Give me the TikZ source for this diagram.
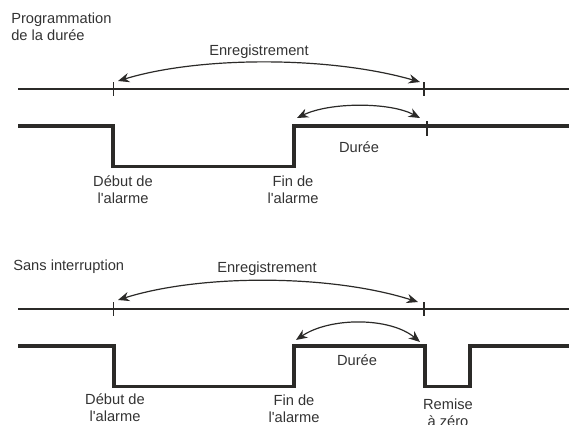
\documentclass[tikz,border=0pt]{standalone}
\usepackage{fontspec}
\setmainfont{Liberation Sans}[Ligatures=TeXOff]
\usetikzlibrary{arrows.meta}
\definecolor{ink}{HTML}{2B2A28}
\definecolor{txt}{HTML}{333333}
\begin{document}
\begin{tikzpicture}[x=0.75pt,y=-0.75pt,
  lbl/.style={text=txt,font=\fontsize{11}{12.5}\selectfont,inner sep=0pt,align=center},
  axis/.style={draw=ink,line width=1.5pt},
  sig/.style={draw=ink,line width=2.3pt,line join=miter},
  tick/.style={draw=ink,line width=0.8pt},
  span/.style={draw=ink,line width=0.9pt,{Stealth[length=8.5pt,width=7pt]}-{Stealth[length=8.5pt,width=7pt]}}]
\useasboundingbox (0,0) rectangle (569,425);
% ---------- top section ----------
\node[lbl,anchor=west,align=left] (t1) at (11,26.5) {Programmation\\de la durée};
\node[lbl] (e1) at (259,52) {Enregistrement};
\draw[axis] (18,89) -- (569,89);
\draw[tick] (113.5,82) -- (113.5,96);
\draw[tick] (424,82) -- (424,96);
\coordinate (a1) at (118,81);
\coordinate (b1) at (420,82);
\draw[span] (a1) .. controls (200,56) and (330,56) .. (b1);
\draw[sig] (18,126) -- (113,126) -- (113,166.5) -- (294,166.5) -- (294,126) -- (569,126);
\draw[tick] (427,121) -- (427,136);
\coordinate (c1) at (297,118);
\coordinate (d1) at (420,118);
\draw[span] (c1) .. controls (330,102) and (390,102) .. (d1);
\node[lbl] (du1) at (359,147) {Durée};
\node[lbl] (db1) at (123,190) {Début de\\l'alarme};
\node[lbl] (fn1) at (293,190) {Fin de\\l'alarme};
% ---------- bottom section ----------
\node[lbl,anchor=west] (t2) at (13,267) {Sans interruption};
\node[lbl] (e2) at (267,268.5) {Enregistrement};
\draw[axis] (18,309) -- (569,309);
\draw[tick] (113.5,302) -- (113.5,316);
\draw[tick] (424,302) -- (424,316);
\coordinate (a2) at (118,300);
\coordinate (b2) at (418,302);
\draw[span] (a2) .. controls (200,274) and (330,274) .. (b2);
\draw[sig] (18,346) -- (114,346) -- (114,386.5) -- (294,386.5) -- (294,346) -- (425,346) -- (425,386.5) -- (470,386.5) -- (470,346) -- (569,346);
\coordinate (c2) at (296,340);
\coordinate (d2) at (420,342);
\draw[span] (c2) .. controls (330,317) and (390,317) .. (d2);
\node[lbl] (du2) at (357,360) {Durée};
\node[lbl] (db2) at (115,408) {Début de\\l'alarme};
\node[lbl] (fn2) at (294,409) {Fin de\\l'alarme};
\node[lbl] (rz) at (448,413) {Remise\\à zéro};
\end{tikzpicture}
\end{document}
